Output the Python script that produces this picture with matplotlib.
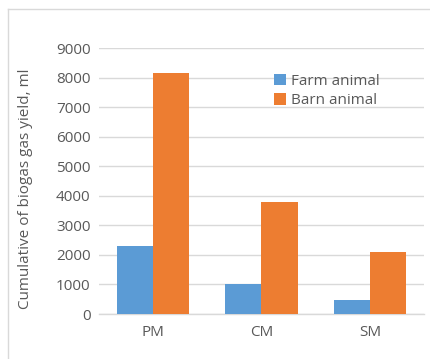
import matplotlib
matplotlib.use("Agg")
import matplotlib.pyplot as plt
import numpy as np
from matplotlib.lines import Line2D

categories = ["PM", "CM", "SM"]
farm_animal = [2310, 1000, 480]
barn_animal = [8170, 3800, 2110]
series_names = ["Farm animal", "Barn animal"]
y_ticks = [0, 1000, 2000, 3000, 4000, 5000, 6000, 7000, 8000, 9000]
y_label = "Cumulative of biogas gas yield, ml"

plt.rcParams["font.family"] = ["Open Sans", "DejaVu Sans"]
text_color = "#595959"
grid_color = "#d9d9d9"
blue = "#5B9BD5"
orange = "#ED7D31"
fs = 11

W, H = 431, 359
fig = plt.figure(figsize=(W / 100, H / 100), dpi=100)
fig.patch.set_facecolor("white")

# light outer frame of the chart area (top and left edges)
fx, fy = 8.5 / W, 1 - 8.5 / H
fig.add_artist(Line2D([fx, 1.0], [fy, fy], transform=fig.transFigure,
                      color=grid_color, linewidth=1.0))
fig.add_artist(Line2D([fx, fx], [0.0, fy], transform=fig.transFigure,
                      color=grid_color, linewidth=1.0))

ax = fig.add_axes([99 / W, 1 - 314 / H, (424 - 99) / W, (314 - 48) / H])

x = np.arange(len(categories))
bw = 1 / 3
ax.bar(x - bw / 2, farm_animal, width=bw, color=blue, label=series_names[0], zorder=3)
ax.bar(x + bw / 2, barn_animal, width=bw, color=orange, label=series_names[1], zorder=3)

ax.set_xlim(-0.5, len(categories) - 0.5)
ax.set_ylim(0, 9000)
ax.set_yticks(y_ticks)
ax.set_yticklabels([str(v) for v in y_ticks])
ax.set_xticks(x)
ax.set_xticklabels(categories)

ax.grid(axis="y", color=grid_color, linewidth=1.0, zorder=0)
ax.set_axisbelow(True)
for s in ["top", "right", "left"]:
    ax.spines[s].set_visible(False)
ax.spines["bottom"].set_color(grid_color)
ax.spines["bottom"].set_linewidth(1.0)
ax.tick_params(axis="both", length=0, colors=text_color, labelsize=fs)
ax.tick_params(axis="y", pad=6)
ax.tick_params(axis="x", pad=8)

fig.text(26 / W, 1 - 189 / H, y_label, rotation=90, ha="center", va="center",
         color=text_color, fontsize=fs)

leg = ax.legend(loc="upper left", bbox_to_anchor=(274 / W, 1 - 73.5 / H),
                bbox_transform=fig.transFigure, frameon=False, borderpad=0,
                handlelength=0.8, handleheight=0.8, handletextpad=0.3,
                labelspacing=0.3, fontsize=fs, borderaxespad=0)
for t in leg.get_texts():
    t.set_color(text_color)

fig.savefig("out.png", dpi=100, facecolor="white")
